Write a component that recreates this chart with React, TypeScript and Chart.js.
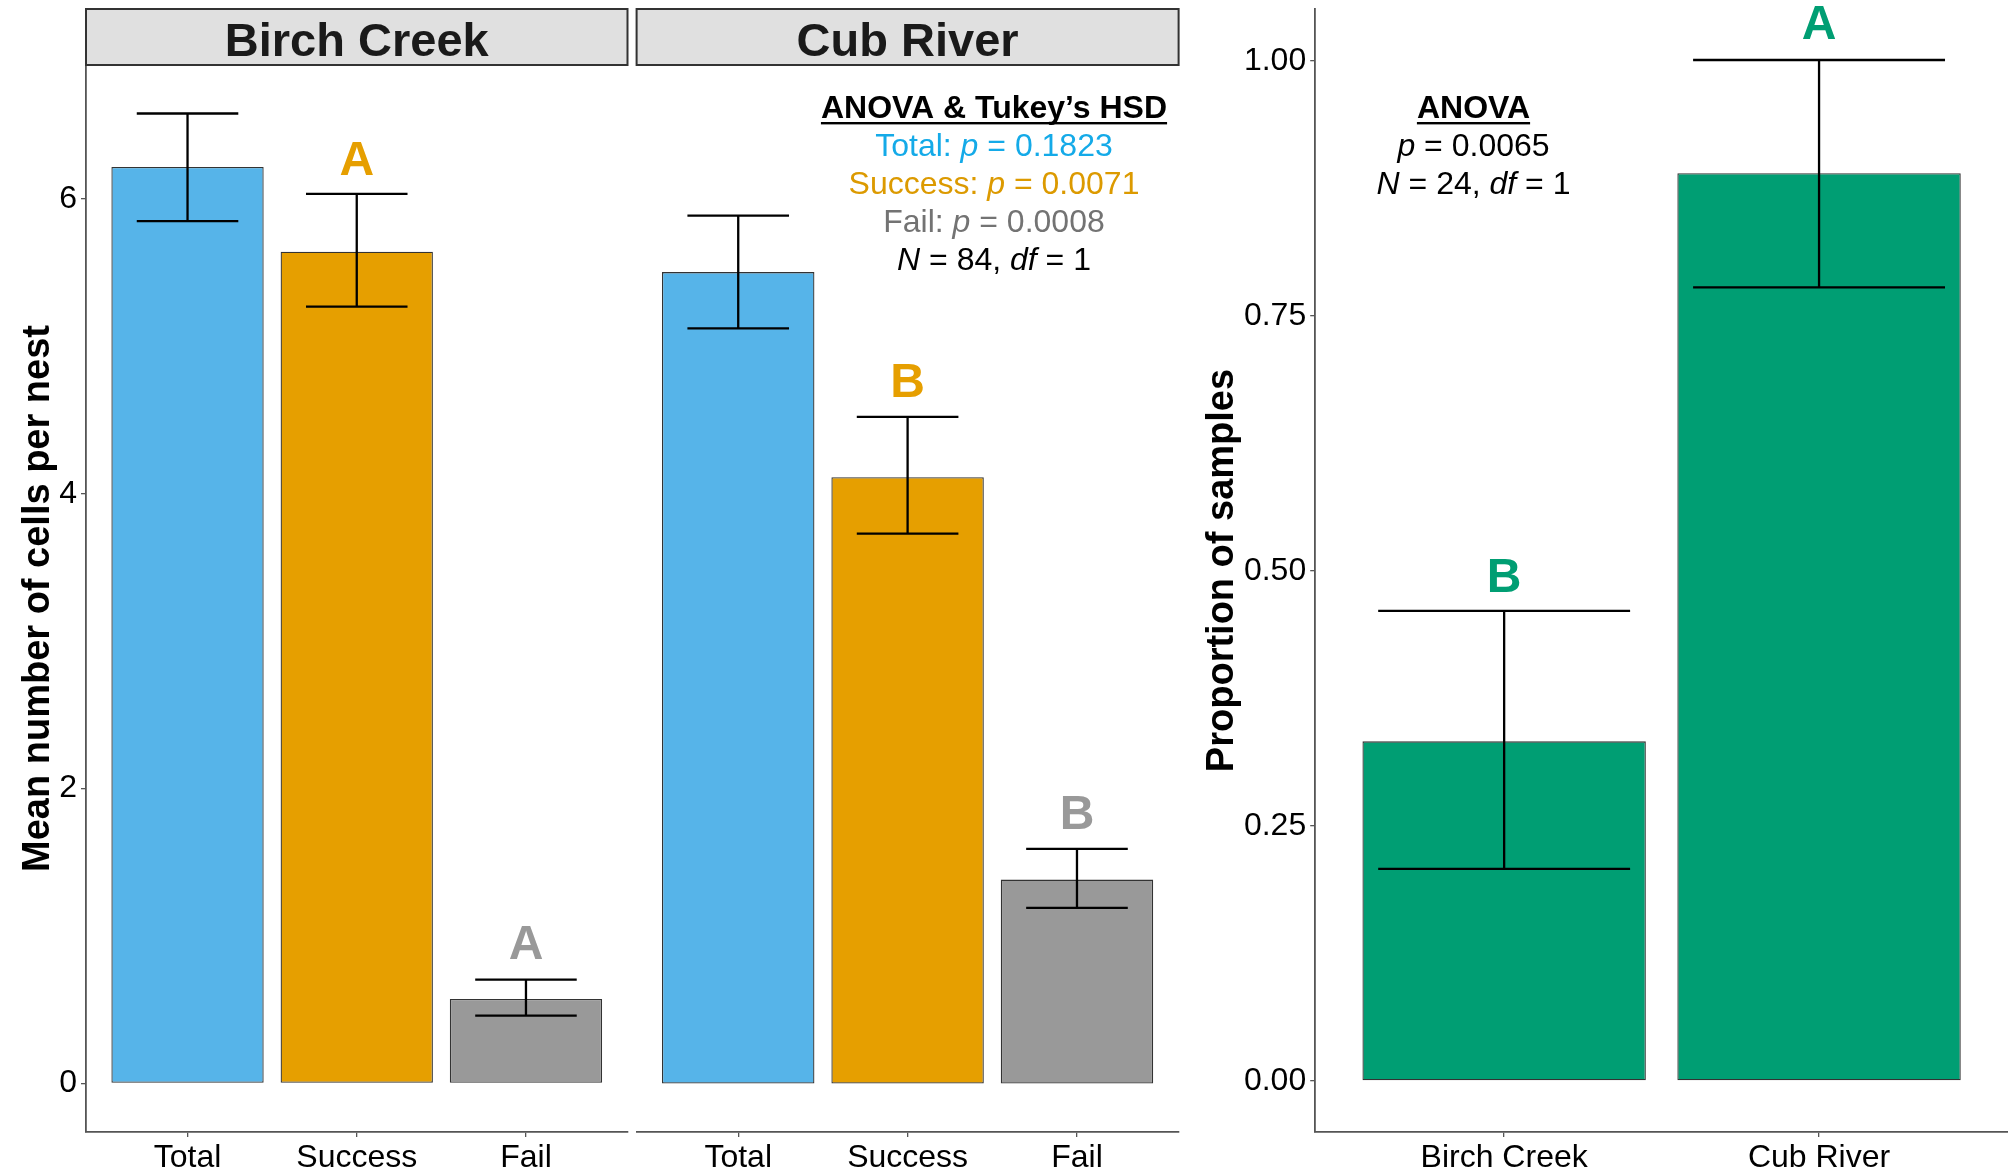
import React, { useEffect, useRef } from "react";
import { Chart, registerables } from "chart.js";

Chart.register(...registerables);

// ---------- data ----------
const facetNames = ["Birch Creek", "Cub River"];
const cellCategories = ["Total", "Success", "Fail"];
const cellColors = ["#56B4E9", "#E69F00", "#999999"];

const birchMeans = [6.217, 5.643, 0.574];
const birchLower = [5.85, 5.27, 0.461];
const birchUpper = [6.58, 6.035, 0.704];
const birchLetters = ["", "A", "A"];
const birchLetterY = [0, 6.28, 0.957];

const cubMeans = [5.504, 4.113, 1.383];
const cubLower = [5.122, 3.73, 1.191];
const cubUpper = [5.887, 4.522, 1.591];
const cubLetters = ["", "B", "B"];
const cubLetterY = [0, 4.774, 1.844];

const cellTicks = [0, 2, 4, 6];

const siteCategories = ["Birch Creek", "Cub River"];
const propMeans = [0.333, 0.89];
const propLower = [0.208, 0.778];
const propUpper = [0.461, 1.001];
const propLetters = ["B", "A"];
const propLetterY = [0.496, 1.038];
const propColor = "#009E73";
const propTicks = [0, 0.25, 0.5, 0.75, 1.0];

const FONT = "'Liberation Sans', Arial, Helvetica, sans-serif";

type Seg = { t: string; i?: boolean };
type Line = { segs: Seg[]; color: string; bold?: boolean; underline?: boolean };

const cellAnnot: Line[] = [
  { segs: [{ t: "ANOVA & Tukey\u2019s HSD" }], color: "#000", bold: true, underline: true },
  { segs: [{ t: "Total: " }, { t: "p", i: true }, { t: " = 0.1823" }], color: "#14AAE8" },
  { segs: [{ t: "Success: " }, { t: "p", i: true }, { t: " = 0.0071" }], color: "#DC9A00" },
  { segs: [{ t: "Fail: " }, { t: "p", i: true }, { t: " = 0.0008" }], color: "#737373" },
  { segs: [{ t: "N", i: true }, { t: " = 84, " }, { t: "df", i: true }, { t: " = 1" }], color: "#000" },
];
const propAnnot: Line[] = [
  { segs: [{ t: "ANOVA" }], color: "#000", bold: true, underline: true },
  { segs: [{ t: "p", i: true }, { t: " = 0.0065" }], color: "#000" },
  { segs: [{ t: "N", i: true }, { t: " = 24, " }, { t: "df", i: true }, { t: " = 1" }], color: "#000" },
];

// ---------- drawing helpers ----------
function drawLines(ctx: CanvasRenderingContext2D, lines: Line[], cx: number, baseline0: number, step: number) {
  lines.forEach((ln, k) => {
    const y = baseline0 + k * step;
    const size = 32;
    const fontFor = (s: Seg) => `${s.i ? "italic " : ""}${ln.bold ? "bold " : ""}${size}px ${FONT}`;
    let total = 0;
    const widths = ln.segs.map((s) => {
      ctx.font = fontFor(s);
      const w = ctx.measureText(s.t).width;
      total += w;
      return w;
    });
    let x = cx - total / 2;
    ctx.fillStyle = ln.color;
    ctx.textAlign = "left";
    ctx.textBaseline = "alphabetic";
    ln.segs.forEach((s, j) => {
      ctx.font = fontFor(s);
      ctx.fillText(s.t, x, y);
      x += widths[j];
    });
    if (ln.underline) {
      ctx.fillRect(cx - total / 2, y + 4, total, 2.4);
    }
  });
}

type Extra = {
  lower: number[];
  upper: number[];
  whisker: number;
  letters: string[];
  letterY: number[];
  letterColors: string[];
  strip?: string;
  yTitle?: string;
  yTitleX?: number;
  annot?: Line[];
  annotX?: number;
  annotBase?: number;
};

function makePlugin(extra: Extra) {
  return {
    id: "extras",
    afterDatasetsDraw(chart: any) {
      const ctx: CanvasRenderingContext2D = chart.ctx;
      const xs = chart.scales.x;
      const ys = chart.scales.y;
      const area = chart.chartArea;
      ctx.save();
      // error bars
      ctx.strokeStyle = "#000";
      ctx.lineWidth = 2.3;
      extra.lower.forEach((lo, i) => {
        const xv = i + 1;
        const xc = xs.getPixelForValue(xv);
        const xl = xs.getPixelForValue(xv - extra.whisker / 2);
        const xr = xs.getPixelForValue(xv + extra.whisker / 2);
        const yl = ys.getPixelForValue(lo);
        const yu = ys.getPixelForValue(extra.upper[i]);
        ctx.beginPath();
        ctx.moveTo(xl, yu);
        ctx.lineTo(xr, yu);
        ctx.moveTo(xc, yu);
        ctx.lineTo(xc, yl);
        ctx.moveTo(xl, yl);
        ctx.lineTo(xr, yl);
        ctx.stroke();
      });
      // letters
      ctx.font = `bold 48px ${FONT}`;
      ctx.textAlign = "center";
      ctx.textBaseline = "alphabetic";
      extra.letters.forEach((l, i) => {
        if (!l) return;
        ctx.fillStyle = extra.letterColors[i];
        ctx.fillText(l, xs.getPixelForValue(i + 1), ys.getPixelForValue(extra.letterY[i]) + 17);
      });
      // strip
      if (extra.strip) {
        const top = 9;
        const bottom = area.top;
        ctx.fillStyle = "#E0E0E0";
        ctx.fillRect(area.left, top, area.right - area.left, bottom - top);
        ctx.strokeStyle = "#333";
        ctx.lineWidth = 2;
        ctx.strokeRect(area.left, top, area.right - area.left, bottom - top);
        ctx.fillStyle = "#1A1A1A";
        ctx.font = `bold 47px ${FONT}`;
        ctx.textAlign = "center";
        ctx.fillText(extra.strip, (area.left + area.right) / 2, 56);
      }
      // y title
      if (extra.yTitle) {
        ctx.save();
        ctx.translate(extra.yTitleX as number, (area.top + area.bottom) / 2);
        ctx.rotate(-Math.PI / 2);
        ctx.fillStyle = "#000";
        ctx.font = `bold 38px ${FONT}`;
        ctx.textAlign = "center";
        ctx.textBaseline = "alphabetic";
        ctx.fillText(extra.yTitle, 0, 0);
        ctx.restore();
      }
      if (extra.annot) {
        drawLines(ctx, extra.annot, extra.annotX as number, extra.annotBase as number, 38);
      }
      ctx.restore();
    },
  };
}

function buildConfig(opts: {
  cats: string[];
  means: number[];
  colors: string[];
  yMin: number;
  yMax: number;
  ticks: number[];
  showY: boolean;
  yWidth: number;
  tickFmt: (v: number) => string;
  padding: { left: number; right: number; top: number };
  extra: Extra;
}) {
  const n = opts.cats.length;
  return {
    type: "bar" as const,
    data: {
      datasets: [
        {
          data: opts.means.map((m, i) => ({ x: i + 1, y: m })),
          backgroundColor: opts.colors,
          borderColor: "#333333",
          borderWidth: 1.3,
          borderSkipped: false,
          categoryPercentage: 0.9,
          barPercentage: 1.0,
        },
      ],
    },
    options: {
      animation: false,
      responsive: false,
      devicePixelRatio: 1,
      layout: { padding: { left: opts.padding.left, right: opts.padding.right, top: opts.padding.top, bottom: 0 } },
      plugins: { legend: { display: false }, tooltip: { enabled: false }, title: { display: false } },
      scales: {
        x: {
          type: "linear",
          min: 0.4,
          max: n + 0.6,
          offset: false,
          afterBuildTicks: (s: any) => {
            s.ticks = opts.cats.map((_, i) => ({ value: i + 1 }));
          },
          afterFit: (s: any) => {
            s.height = 37;
            s.paddingLeft = 0;
            s.paddingRight = 0;
            s.paddingTop = 0;
            s.paddingBottom = 0;
          },
          ticks: {
            autoSkip: false,
            maxRotation: 0,
            padding: 2,
            color: "#000",
            font: { family: FONT, size: 32 },
            callback: (v: number) => opts.cats[Math.round(v) - 1] ?? "",
          },
          grid: { offset: false, drawOnChartArea: false, drawTicks: true, tickLength: 5, color: "#555", lineWidth: 1.3 },
          border: { display: true, color: "#555", width: 1.8 },
        },
        y: {
          type: "linear",
          display: opts.showY,
          min: opts.yMin,
          max: opts.yMax,
          afterBuildTicks: (s: any) => {
            s.ticks = opts.ticks.map((v) => ({ value: v }));
          },
          afterFit: (s: any) => {
            s.width = opts.yWidth;
            s.paddingLeft = 0;
            s.paddingRight = 0;
            s.paddingTop = 0;
            s.paddingBottom = 0;
          },
          ticks: {
            padding: 4,
            color: "#000",
            font: { family: FONT, size: 32 },
            callback: (v: number) => opts.tickFmt(v),
          },
          grid: { drawOnChartArea: false, drawTicks: true, tickLength: 5, color: "#555", lineWidth: 1.3 },
          border: { display: true, color: "#555", width: 1.8 },
        },
      },
    },
    plugins: [makePlugin(opts.extra)],
  };
}

const CELL_MIN = -0.329;
const CELL_MAX = 6.909;

function ChartCanvas({ config, left, width }: { config: any; left: number; width: number }) {
  const ref = useRef<HTMLCanvasElement | null>(null);
  useEffect(() => {
    if (!ref.current) return;
    const c = new Chart(ref.current, config);
    return () => c.destroy();
  }, [config]);
  return (
    <canvas
      ref={ref}
      width={width}
      height={1169}
      style={{ position: "absolute", left, top: 0, width, height: 1169 }}
    />
  );
}

const birchConfig = buildConfig({
  cats: cellCategories,
  means: birchMeans,
  colors: cellColors,
  yMin: CELL_MIN,
  yMax: CELL_MAX,
  ticks: cellTicks,
  showY: true,
  yWidth: 86,
  tickFmt: (v) => String(v),
  padding: { left: 0, right: 4.5, top: 65 },
  extra: {
    lower: birchLower,
    upper: birchUpper,
    whisker: 0.6,
    letters: birchLetters,
    letterY: birchLetterY,
    letterColors: cellColors,
    strip: facetNames[0],
    yTitle: "Mean number of cells per nest",
    yTitleX: 49,
  },
});

const cubConfig = buildConfig({
  cats: cellCategories,
  means: cubMeans,
  colors: cellColors,
  yMin: CELL_MIN,
  yMax: CELL_MAX,
  ticks: cellTicks,
  showY: false,
  yWidth: 0,
  tickFmt: (v) => String(v),
  padding: { left: 4.6, right: 5.4, top: 65 },
  extra: {
    lower: cubLower,
    upper: cubUpper,
    whisker: 0.6,
    letters: cubLetters,
    letterY: cubLetterY,
    letterColors: cellColors,
    strip: facetNames[1],
    annot: cellAnnot,
    annotX: 994 - 632,
    annotBase: 118,
  },
});

const propConfig = buildConfig({
  cats: siteCategories,
  means: propMeans,
  colors: [propColor, propColor],
  yMin: -0.05,
  yMax: 1.051,
  ticks: propTicks,
  showY: true,
  yWidth: 131.2,
  tickFmt: (v) => v.toFixed(2),
  padding: { left: 0, right: 0, top: 9 },
  extra: {
    lower: propLower,
    upper: propUpper,
    whisker: 0.8,
    letters: propLetters,
    letterY: propLetterY,
    letterColors: [propColor, propColor],
    yTitle: "Proportion of samples",
    yTitleX: 49,
    annot: propAnnot,
    annotX: 1473.5 - 1184,
    annotBase: 118,
  },
});

export default function App() {
  return (
    <div style={{ position: "fixed", left: 0, top: 0, width: 2008, height: 1169, background: "#fff", overflow: "hidden" }}>
      <ChartCanvas config={birchConfig} left={0} width={632} />
      <ChartCanvas config={cubConfig} left={632} width={552} />
      <ChartCanvas config={propConfig} left={1184} width={824} />
    </div>
  );
}
